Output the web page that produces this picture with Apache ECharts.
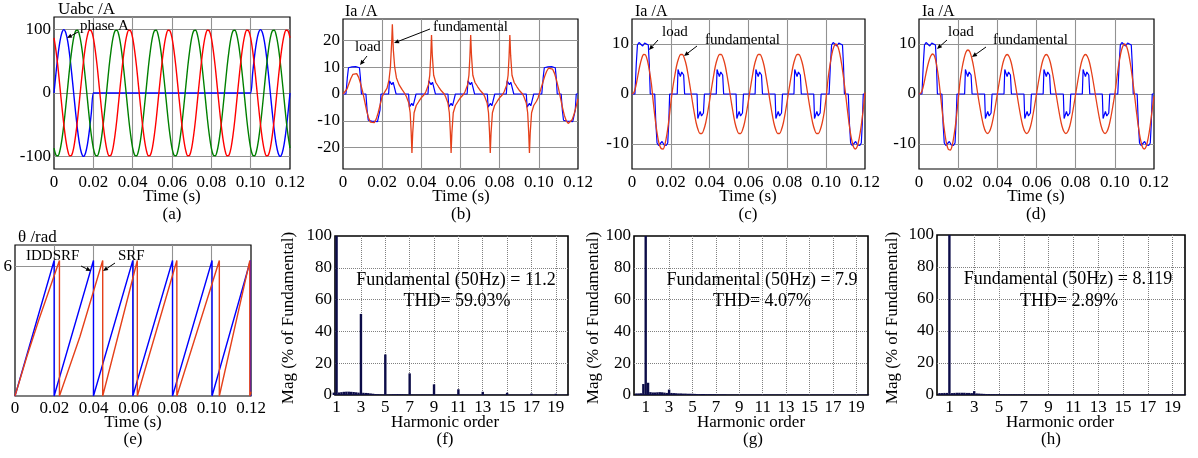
<!DOCTYPE html>
<html><head><meta charset="utf-8">
<script src="https://cdn.jsdelivr.net/npm/echarts@6/dist/echarts.min.js"></script>
<style>html,body{margin:0;padding:0;background:#fff}#c{width:1198px;height:458px}</style>
</head><body><div id="c"></div><script>
// ---------- DATA ----------
const timeTicks = [0,0.02,0.04,0.06,0.08,0.1,0.12];
const harmonicTicks = [1,3,5,7,9,11,13,15,17,19];
const ticksA = [-100,0,100];
const ticksB = [-20,-10,0,10,20];
const ticksCD = [-10,0,10];
const ticksE = [6];

// sample times (s), 1 ms step
const tA = [
0,0.001,0.002,0.003,0.004,0.005,0.006,0.007,0.008,0.009,
0.01,0.011,0.012,0.013,0.014,0.015,0.016,0.017,0.018,0.019,
0.02,0.021,0.022,0.023,0.024,0.025,0.026,0.027,0.028,0.029,
0.03,0.031,0.032,0.033,0.034,0.035,0.036,0.037,0.038,0.039,
0.04,0.041,0.042,0.043,0.044,0.045,0.046,0.047,0.048,0.049,
0.05,0.051,0.052,0.053,0.054,0.055,0.056,0.057,0.058,0.059,
0.06,0.061,0.062,0.063,0.064,0.065,0.066,0.067,0.068,0.069,
0.07,0.071,0.072,0.073,0.074,0.075,0.076,0.077,0.078,0.079,
0.08,0.081,0.082,0.083,0.084,0.085,0.086,0.087,0.088,0.089,
0.09,0.091,0.092,0.093,0.094,0.095,0.096,0.097,0.098,0.099,
0.1,0.101,0.102,0.103,0.104,0.105,0.106,0.107,0.108,0.109,
0.11,0.111,0.112,0.113,0.114,0.115,0.116,0.117,0.118,0.119,
0.12];

// (a) phase voltages
const phaseA = [
0,31,59,81,95,100,95,81,59,31,
0,-31,-59,-81,-95,-100,-95,-81,-59,-31,
0,0,0,0,0,0,0,0,0,0,
0,0,0,0,0,0,0,0,0,0,
0,0,0,0,0,0,0,0,0,0,
0,0,0,0,0,0,0,0,0,0,
0,0,0,0,0,0,0,0,0,0,
0,0,0,0,0,0,0,0,0,0,
0,0,0,0,0,0,0,0,0,0,
0,0,0,0,0,0,0,0,0,0,
0,31,59,81,95,100,95,81,59,31,
0,-31,-59,-81,-95,-100,-95,-81,-59,-31,
0];
const phaseB = [
-87,-98,-99,-91,-74,-50,-21,10,41,67,
87,98,99,91,74,50,21,-10,-41,-67,
-87,-98,-99,-91,-74,-50,-21,10,41,67,
87,98,99,91,74,50,21,-10,-41,-67,
-87,-98,-99,-91,-74,-50,-21,10,41,67,
87,98,99,91,74,50,21,-10,-41,-67,
-87,-98,-99,-91,-74,-50,-21,10,41,67,
87,98,99,91,74,50,21,-10,-41,-67,
-87,-98,-99,-91,-74,-50,-21,10,41,67,
87,98,99,91,74,50,21,-10,-41,-67,
-87,-98,-99,-91,-74,-50,-21,10,41,67,
87,98,99,91,74,50,21,-10,-41,-67,
-87];
const phaseC = [
87,67,41,10,-21,-50,-74,-91,-99,-98,
-87,-67,-41,-10,21,50,74,91,99,98,
87,67,41,10,-21,-50,-74,-91,-99,-98,
-87,-67,-41,-10,21,50,74,91,99,98,
87,67,41,10,-21,-50,-74,-91,-99,-98,
-87,-67,-41,-10,21,50,74,91,99,98,
87,67,41,10,-21,-50,-74,-91,-99,-98,
-87,-67,-41,-10,21,50,74,91,99,98,
87,67,41,10,-21,-50,-74,-91,-99,-98,
-87,-67,-41,-10,21,50,74,91,99,98,
87,67,41,10,-21,-50,-74,-91,-99,-98,
-87,-67,-41,-10,21,50,74,91,99,98,
87];

// load current [t, A] (same load in b, c, d)
const loadCurrent = [
[0,0],[0.0015,0],[0.0022,6],[0.0028,9.8],[0.0036,10.3],[0.0046,10.1],[0.0055,9.6],[0.0065,10.2],[0.0075,10.3],[0.0084,9.8],[0.0089,6],[0.0094,0],
[0.0117,0],[0.0123,-6],[0.0129,-9.8],[0.0137,-10.3],[0.0147,-10.1],[0.0155,-9.5],[0.0165,-10.2],[0.0176,-10.3],[0.0184,-9.8],[0.0189,-6],[0.0194,0],
[0.0233,0],[0.0237,4.9],[0.0242,4.3],[0.0249,3.5],[0.0256,4.4],[0.0261,4.8],[0.0266,3.8],[0.0271,0],
[0.0335,0],[0.0339,-4.9],[0.0344,-4.3],[0.0351,-3.5],[0.0358,-4.4],[0.0363,-4.8],[0.0368,-3.8],[0.0373,0],
[0.0434,0],[0.0438,4.9],[0.0443,4.3],[0.045,3.5],[0.0457,4.4],[0.0462,4.8],[0.0467,3.8],[0.0472,0],
[0.0536,0],[0.054,-4.9],[0.0545,-4.3],[0.0552,-3.5],[0.0559,-4.4],[0.0564,-4.8],[0.0569,-3.8],[0.0574,0],
[0.0634,0],[0.0638,4.9],[0.0643,4.3],[0.065,3.5],[0.0657,4.4],[0.0662,4.8],[0.0667,3.8],[0.0672,0],
[0.0737,0],[0.0741,-4.9],[0.0746,-4.3],[0.0753,-3.5],[0.076,-4.4],[0.0765,-4.8],[0.077,-3.8],[0.0775,0],
[0.0834,0],[0.0838,4.9],[0.0843,4.3],[0.085,3.5],[0.0857,4.4],[0.0862,4.8],[0.0867,3.8],[0.0872,0],
[0.0936,0],[0.094,-4.9],[0.0945,-4.3],[0.0952,-3.5],[0.0959,-4.4],[0.0964,-4.8],[0.0969,-3.8],[0.0974,0],
[0.1015,0],[0.1022,6],[0.1028,9.8],[0.1036,10.3],[0.1046,10.1],[0.1055,9.6],[0.1065,10.2],[0.1075,10.3],[0.1084,9.8],[0.1089,6],[0.1094,0],
[0.1114,0],[0.112,-6],[0.1126,-9.8],[0.1134,-10.3],[0.1144,-10.1],[0.1152,-9.5],[0.1162,-10.2],[0.1173,-10.3],[0.1181,-9.8],[0.1186,-6],[0.1191,0],[0.12,0]
];

// (b) source current [t, A]
const currentB = [
[0,0],[0.001,0.3],[0.002,1.8],[0.003,3.8],[0.004,5.8],[0.005,7.3],[0.006,8],[0.007,7.6],[0.008,6.2],[0.009,3.8],[0.01,1],
[0.011,-2.5],[0.012,-6],[0.013,-8.8],[0.014,-10.5],[0.015,-11],[0.016,-10.7],[0.017,-9.3],[0.018,-6.9],[0.019,-3.9],[0.02,-1],[0.0207,0],
[0.0215,1],[0.0225,2.2],[0.0235,5.3],[0.0242,10],[0.0249,20],[0.0252,26],[0.0257,16.5],[0.0264,10],[0.0273,6],[0.0286,3.5],[0.0302,1.6],[0.0317,0],
[0.0324,-1],[0.0336,-3.4],[0.0343,-7],[0.0348,-14],[0.0352,-22],[0.0356,-14.5],[0.0363,-7],[0.0374,-4.3],[0.0388,-2.7],[0.0402,-1.2],[0.0417,0],
[0.0424,1],[0.0436,3.4],[0.0443,7],[0.0448,14],[0.0452,22],[0.0456,14.5],[0.0463,7],[0.0474,4.3],[0.0488,2.7],[0.0502,1.2],[0.0517,0],
[0.0524,-1],[0.0536,-3.4],[0.0543,-7],[0.0548,-14],[0.0552,-22],[0.0556,-14.5],[0.0563,-7],[0.0574,-4.3],[0.0588,-2.7],[0.0602,-1.2],[0.0617,0],
[0.0624,1],[0.0636,3.4],[0.0643,7],[0.0648,14],[0.0652,22],[0.0656,14.5],[0.0663,7],[0.0674,4.3],[0.0688,2.7],[0.0702,1.2],[0.0717,0],
[0.0724,-1],[0.0736,-3.4],[0.0743,-7],[0.0748,-14],[0.0752,-22],[0.0756,-14.5],[0.0763,-7],[0.0774,-4.3],[0.0788,-2.7],[0.0802,-1.2],[0.0817,0],
[0.0824,1],[0.0836,3.4],[0.0843,7],[0.0848,14],[0.0852,22],[0.0856,14.5],[0.0863,7],[0.0874,4.3],[0.0888,2.7],[0.0902,1.2],[0.0917,0],
[0.0924,-1],[0.0936,-3.4],[0.0943,-7],[0.0948,-14],[0.0952,-22],[0.0956,-14.5],[0.0963,-7],[0.0974,-4.3],[0.0988,-2.7],[0.0996,-1.5],[0.1002,0],
[0.101,1.8],[0.102,4.2],[0.103,6.6],[0.104,8.5],[0.105,9.7],[0.106,10],[0.107,9.3],[0.108,7.7],[0.109,5.2],[0.11,2.2],
[0.111,-1.3],[0.112,-4.8],[0.113,-7.9],[0.114,-10],[0.115,-11],[0.116,-10.8],[0.117,-9.6],[0.118,-7.5],[0.119,-4.8],[0.12,-1.8]
];

// (c) source current, 1 ms samples
const currentC = [
0,0.3,1.6,3.6,5.6,7.1,7.9,7.8,6.6,4.6,
2.0,-1.8,-5.2,-8.0,-10.0,-10.9,-11.0,-10.0,-8.0,-5.2,
-1.8,1.25,3.6,5.7,7.1,7.9,7.9,7.1,5.7,3.6,
1.25,-1.25,-3.6,-5.7,-7.1,-7.9,-7.9,-7.1,-5.7,-3.6,
-1.25,1.25,3.6,5.7,7.1,7.9,7.9,7.1,5.7,3.6,
1.25,-1.25,-3.6,-5.7,-7.1,-7.9,-7.9,-7.1,-5.7,-3.6,
-1.25,1.25,3.6,5.7,7.1,7.9,7.9,7.1,5.7,3.6,
1.25,-1.25,-3.6,-5.7,-7.1,-7.9,-7.9,-7.1,-5.7,-3.6,
-1.25,1.25,3.6,5.7,7.1,7.9,7.9,7.1,5.7,3.6,
1.25,-1.25,-3.6,-5.7,-7.1,-7.9,-7.9,-7.1,-5.7,-3.6,
-0.6,3.1,5.9,8.1,9.5,10,9.5,8.1,5.9,3.1,
0,-3.4,-6.5,-8.9,-10.5,-11,-10.5,-8.9,-6.5,-3.4,
0.3];

// (d) source current, 1 ms samples
const currentD = [
0,0.2,1.2,3.0,4.9,6.5,7.6,8.0,7.5,5.8,
3.2,-0.3,-4.0,-7.3,-9.8,-11.1,-11.2,-10.2,-8.0,-5.0,
-1.2,2.7,5.2,7.1,8.4,8.8,8.4,7.1,5.2,2.7,
0,-2.4,-4.6,-6.4,-7.5,-7.9,-7.5,-6.4,-4.6,-2.4,
0,2.4,4.6,6.4,7.5,7.9,7.5,6.4,4.6,2.4,
0,-2.4,-4.6,-6.4,-7.5,-7.9,-7.5,-6.4,-4.6,-2.4,
0,2.4,4.6,6.4,7.5,7.9,7.5,6.4,4.6,2.4,
0,-2.4,-4.6,-6.4,-7.5,-7.9,-7.5,-6.4,-4.6,-2.4,
0,2.4,4.6,6.4,7.5,7.9,7.5,6.4,4.6,2.4,
0,-2.4,-4.6,-6.4,-7.5,-7.9,-7.5,-6.4,-4.6,-2.4,
0,3.1,5.9,8.1,9.5,10,9.5,8.1,5.9,3.1,
0,-3.4,-6.5,-8.9,-10.5,-11,-10.5,-8.9,-6.5,-3.4,
-0.5];

// (e) phase angle [t, rad]
const thetaIDDSRF = [[0,0],[0.0199,6.28],[0.0199,0],[0.0399,6.28],[0.0399,0],[0.0599,6.28],[0.0599,0],[0.0801,6.28],[0.0801,0],[0.1002,6.28],[0.1002,0],[0.1197,6.28],[0.1197,0],[0.12,0.05]];
const thetaSRF = [[0,0],[0.006,1.82],[0.012,3.5],[0.0226,6.28],[0.0226,0],[0.033,2.75],[0.0446,6.28],[0.0446,0],[0.0622,6.28],[0.0622,0],[0.0823,6.28],[0.0823,0],[0.1039,6.28],[0.1039,0],[0.1194,6.28],[0.1194,0],[0.12,0.2]];

// (f)(g)(h) spectra: harmonic order bins (10 Hz) and magnitude (% of fundamental)
const harmonicBins = [
0,0.2,0.4,0.6,0.8,1,1.2,1.4,1.6,1.8,
2,2.2,2.4,2.6,2.8,3,3.2,3.4,3.6,3.8,
4,4.2,4.4,4.6,4.8,5,5.2,5.4,5.6,5.8,
6,6.2,6.4,6.6,6.8,7,7.2,7.4,7.6,7.8,
8,8.2,8.4,8.6,8.8,9,9.2,9.4,9.6,9.8,
10,10.2,10.4,10.6,10.8,11,11.2,11.4,11.6,11.8,
12,12.2,12.4,12.6,12.8,13,13.2,13.4,13.6,13.8,
14,14.2,14.4,14.6,14.8,15,15.2,15.4,15.6,15.8,
16,16.2,16.4,16.6,16.8,17,17.2,17.4,17.6,17.8,
18,18.2,18.4,18.6,18.8,19,19.2,19.4,19.6,19.8,
20];
const spectrumF = [
0,1.4,1.4,1.5,1.5,100,1.6,1.8,2.0,2.1,
2.1,2.0,1.9,1.7,1.5,51,1.4,1.3,1.2,1.0,
0.8,0.6,0.5,0.4,0.3,25.5,0.3,0.4,0.5,0.5,
0.6,0.5,0.5,0.4,0.3,13.6,0.3,0.3,0.3,0.3,
0.3,0.3,0.3,0.3,0.3,6.7,0.25,0.25,0.25,0.25,
0.25,0.25,0.25,0.25,0.25,3.6,0.25,0.25,0.25,0.25,
0.25,0.25,0.25,0.25,0.25,2.0,0.2,0.2,0.2,0.2,
0.2,0.2,0.2,0.2,0.2,1.4,0.2,0.2,0.2,0.2,
0.2,0.2,0.2,0.2,0.2,0.9,0.2,0.2,0.2,0.2,
0.2,0.2,0.2,0.2,0.2,0.8,0.2,0.2,0.2,0.2,
0.2];
const spectrumG = [
0,1.0,1.0,1.1,6.9,100,7.7,1.8,1.6,1.6,
1.7,1.8,1.7,1.5,1.3,3.4,1.3,1.2,1.1,1.0,
1.0,0.9,0.9,0.8,0.8,0.8,0.7,0.6,0.6,0.6,
0.6,0.5,0.5,0.5,0.5,0.5,0.4,0.4,0.4,0.4,
0.3,0.3,0.3,0.3,0.3,0.3,0.3,0.3,0.3,0.3,
0.3,0.3,0.3,0.3,0.3,0.3,0.3,0.3,0.3,0.3,
0.3,0.3,0.3,0.3,0.3,0.3,0.3,0.3,0.3,0.3,
0.3,0.3,0.3,0.3,0.3,0.3,0.3,0.3,0.3,0.3,
0.3,0.3,0.3,0.3,0.3,0.3,0.3,0.3,0.3,0.3,
0.3,0.3,0.3,0.3,0.3,0.3,0.3,0.3,0.3,0.3,
0.3];
const spectrumH = [
0,1.2,1.2,1.3,1.3,100,1.2,1.3,1.4,1.4,
1.4,1.4,1.3,1.3,1.2,2.4,1.0,0.9,0.8,0.7,
0.6,0.6,0.5,0.5,0.5,0.5,0.4,0.4,0.4,0.4,
0.4,0.4,0.4,0.4,0.3,0.3,0.3,0.3,0.3,0.3,
0.3,0.3,0.3,0.3,0.3,0.3,0.3,0.3,0.3,0.3,
0.25,0.25,0.25,0.25,0.25,0.25,0.25,0.25,0.25,0.25,
0.25,0.25,0.25,0.25,0.25,0.25,0.25,0.25,0.25,0.25,
0.25,0.25,0.25,0.25,0.25,0.25,0.25,0.25,0.25,0.25,
0.25,0.25,0.25,0.25,0.25,0.25,0.25,0.25,0.25,0.25,
0.25,0.25,0.25,0.25,0.25,0.25,0.25,0.25,0.25,0.25,
0.25];

// ---------- CHART ----------
const FONT = '"Liberation Serif","Times New Roman",serif';
const BLUE = '#0000ff', RED_A = '#ff0000', GREEN = '#008000', RED = '#e5401a', BAR = '#0c0c48';
const chart = echarts.init(document.getElementById('c'), null, {renderer:'canvas'});

const grids = [
  {left:54,  top:17,  width:236, height:152},
  {left:343, top:19,  width:235, height:150},
  {left:632, top:19,  width:233, height:150},
  {left:919, top:19,  width:235, height:150},
  {left:15,  top:245, width:236, height:151},
  {left:335, top:236, width:233, height:159},
  {left:634, top:236, width:234, height:159},
  {left:937, top:235, width:248, height:160}
].map((g,i) => Object.assign({show:true, borderColor:'#000', borderWidth: i>=5 ? 1.6 : 1.2,
  backgroundColor:'transparent', containLabel:false, outerBoundsMode:'none'}, g));

const lbl = (margin) => ({color:'#000', fontFamily:FONT, fontSize:17, margin, showMinLabel:true, showMaxLabel:true});

function timeX(gi, margin){
  return {type:'value', gridIndex:gi, min:0, max:0.12,
    axisLine:{show:false,onZero:false}, axisTick:{show:false, customValues:timeTicks},
    axisLabel:Object.assign(lbl(margin), {customValues:timeTicks, formatter:v => v===0 ? '0' : v.toFixed(2)}),
    splitLine:{show:true, showMinLine:false, showMaxLine:false, lineStyle:{color:'#929292', width:1.1}}};
}
function valY(gi, min, max, ticks){
  return {type:'value', gridIndex:gi, min, max,
    axisLine:{show:false,onZero:false}, axisTick:{show:false, customValues:ticks},
    axisLabel:Object.assign(lbl(3), {customValues:ticks}),
    splitLine:{show:true, lineStyle:{color:'#929292', width:1.1}}};
}
function harmX(gi, min){
  return {type:'value', gridIndex:gi, min, max:20,
    axisLine:{show:false,onZero:false}, axisTick:{show:false, customValues:harmonicTicks},
    axisLabel:Object.assign(lbl(4), {customValues:harmonicTicks}),
    splitLine:{show:true, lineStyle:{color:'#808080', width:1, type:[1,1]}}};
}
function magY(gi){
  return {type:'value', gridIndex:gi, min:0, max:100, interval:20,
    axisLine:{show:false,onZero:false}, axisTick:{show:false},
    axisLabel:lbl(3),
    splitLine:{show:true, showMinLine:false, showMaxLine:false, lineStyle:{color:'#808080', width:1, type:[1,1]}}};
}

const xAxes = [timeX(0,5), timeX(1,5), timeX(2,5), timeX(3,5), timeX(4,4), harmX(5,0.87), harmX(6,0), harmX(7,0)];
const yAxes = [valY(0,-120,120,ticksA), valY(1,-28,28,ticksB), valY(2,-15,15,ticksCD), valY(3,-15,15,ticksCD),
               valY(4,0,7,ticksE), magY(5), magY(6), magY(7)];

const pair = (ts, vs) => ts.map((t,i) => [t, vs[i]]);
function line(gi, data, color, width, smooth){
  return {type:'line', xAxisIndex:gi, yAxisIndex:gi, data, showSymbol:false, symbol:'none',
    smooth: smooth || false, lineStyle:{color, width}, emphasis:{disabled:true}, silent:true, z:3};
}
function bars(gi, vals){
  return {type:'bar', xAxisIndex:gi, yAxisIndex:gi, data:pair(harmonicBins, vals), barWidth:2.4,
    itemStyle:{color:BAR}, emphasis:{disabled:true}, silent:true, clip:true};
}

const series = [
  line(0, pair(tA, phaseA), BLUE, 1.4, 0.3),
  line(0, pair(tA, phaseB), GREEN, 1.4, 0.3),
  line(0, pair(tA, phaseC), RED_A, 1.4, 0.3),
  line(1, loadCurrent, BLUE, 1.2),
  line(1, currentB, RED, 1.3),
  line(2, loadCurrent, BLUE, 1.2),
  line(2, pair(tA, currentC), RED, 1.3, 0.3),
  line(3, loadCurrent, BLUE, 1.2),
  line(3, pair(tA, currentD), RED, 1.3, 0.3),
  line(4, thetaIDDSRF, BLUE, 1.4),
  line(4, thetaSRF, RED, 1.4),
  bars(5, spectrumF), bars(6, spectrumG), bars(7, spectrumH)
];

// ---------- ANNOTATIONS ----------
function txt(x, y, s, size, align, extra){
  return Object.assign({type:'text', x, y, z:100, silent:true,
    style:{text:s, fill:'#000', font: size + 'px ' + FONT, align:align||'left', verticalAlign:'middle',
           textAlign:align||'left', textVerticalAlign:'middle'}}, extra||{});
}
function arrow(x1, y1, x2, y2){
  const a = Math.atan2(y2-y1, x2-x1), L = 5, W = 2.2;
  const bx = x2 - L*Math.cos(a), by = y2 - L*Math.sin(a);
  const px = -Math.sin(a)*W, py = Math.cos(a)*W;
  return [
    {type:'line', z:100, silent:true, shape:{x1, y1, x2:bx, y2:by}, style:{stroke:'#000', lineWidth:1}},
    {type:'polygon', z:100, silent:true, shape:{points:[[x2,y2],[bx+px,by+py],[bx-px,by-py]]}, style:{fill:'#000'}}
  ];
}
const rot = {rotation: Math.PI/2};
const graphic = [
  txt(58,10,'Uabc /A',17), txt(345,12,'Ia /A',16), txt(635,12,'Ia /A',16), txt(922,12,'Ia /A',16), txt(18,238,'θ /rad',17),
  txt(80,26,'phase A',15), ...arrow(78,32,67,38),
  txt(355,47,'load',15), ...arrow(367,56,360,65),
  txt(433,27,'fundamental',15), ...arrow(430,29,394,43),
  txt(662,32,'load',15), ...arrow(658,40,649,50),
  txt(705,40,'fundamental',15), ...arrow(697,46,684,56),
  txt(948,32,'load',15), ...arrow(947,40,937,49),
  txt(993,40,'fundamental',15), ...arrow(986,47,972,57),
  txt(26,256,'IDDSRF',15), ...arrow(81,266,91,271),
  txt(118,256,'SRF',15), ...arrow(115,263,103,271),
  txt(172,197,'Time (s)',17,'center'), txt(461,197,'Time (s)',17,'center'), txt(748,197,'Time (s)',17,'center'), txt(1036,197,'Time (s)',17,'center'),
  txt(133,423,'Time (s)',17,'center'),
  txt(445,423,'Harmonic order',17,'center'), txt(751,423,'Harmonic order',17,'center'), txt(1060,423,'Harmonic order',17,'center'),
  txt(172,215,'(a)',17,'center'), txt(461,215,'(b)',17,'center'), txt(748,215,'(c)',17,'center'), txt(1036,215,'(d)',17,'center'),
  txt(133,440,'(e)',17,'center'), txt(445,440,'(f)',17,'center'), txt(753,440,'(g)',17,'center'), txt(1051,440,'(h)',17,'center'),
  txt(289,318,'Mag (% of Fundamental)',17,'center',rot), txt(594,318,'Mag (% of Fundamental)',17,'center',rot), txt(893,318,'Mag (% of Fundamental)',17,'center',rot),
  txt(456,280,'Fundamental (50Hz) = 11.2',18,'center'), txt(457,301,'THD= 59.03%',18,'center'),
  txt(762,280,'Fundamental (50Hz) = 7.9',18,'center'), txt(762,301,'THD= 4.07%',18,'center'),
  txt(1068,279,'Fundamental (50Hz) = 8.119',18,'center'), txt(1069,301,'THD= 2.89%',18,'center')
];

chart.setOption({
  animation:false, backgroundColor:'#fff',
  textStyle:{fontFamily:FONT, color:'#000'},
  grid:grids, xAxis:xAxes, yAxis:yAxes, series, graphic
});
</script></body></html>
